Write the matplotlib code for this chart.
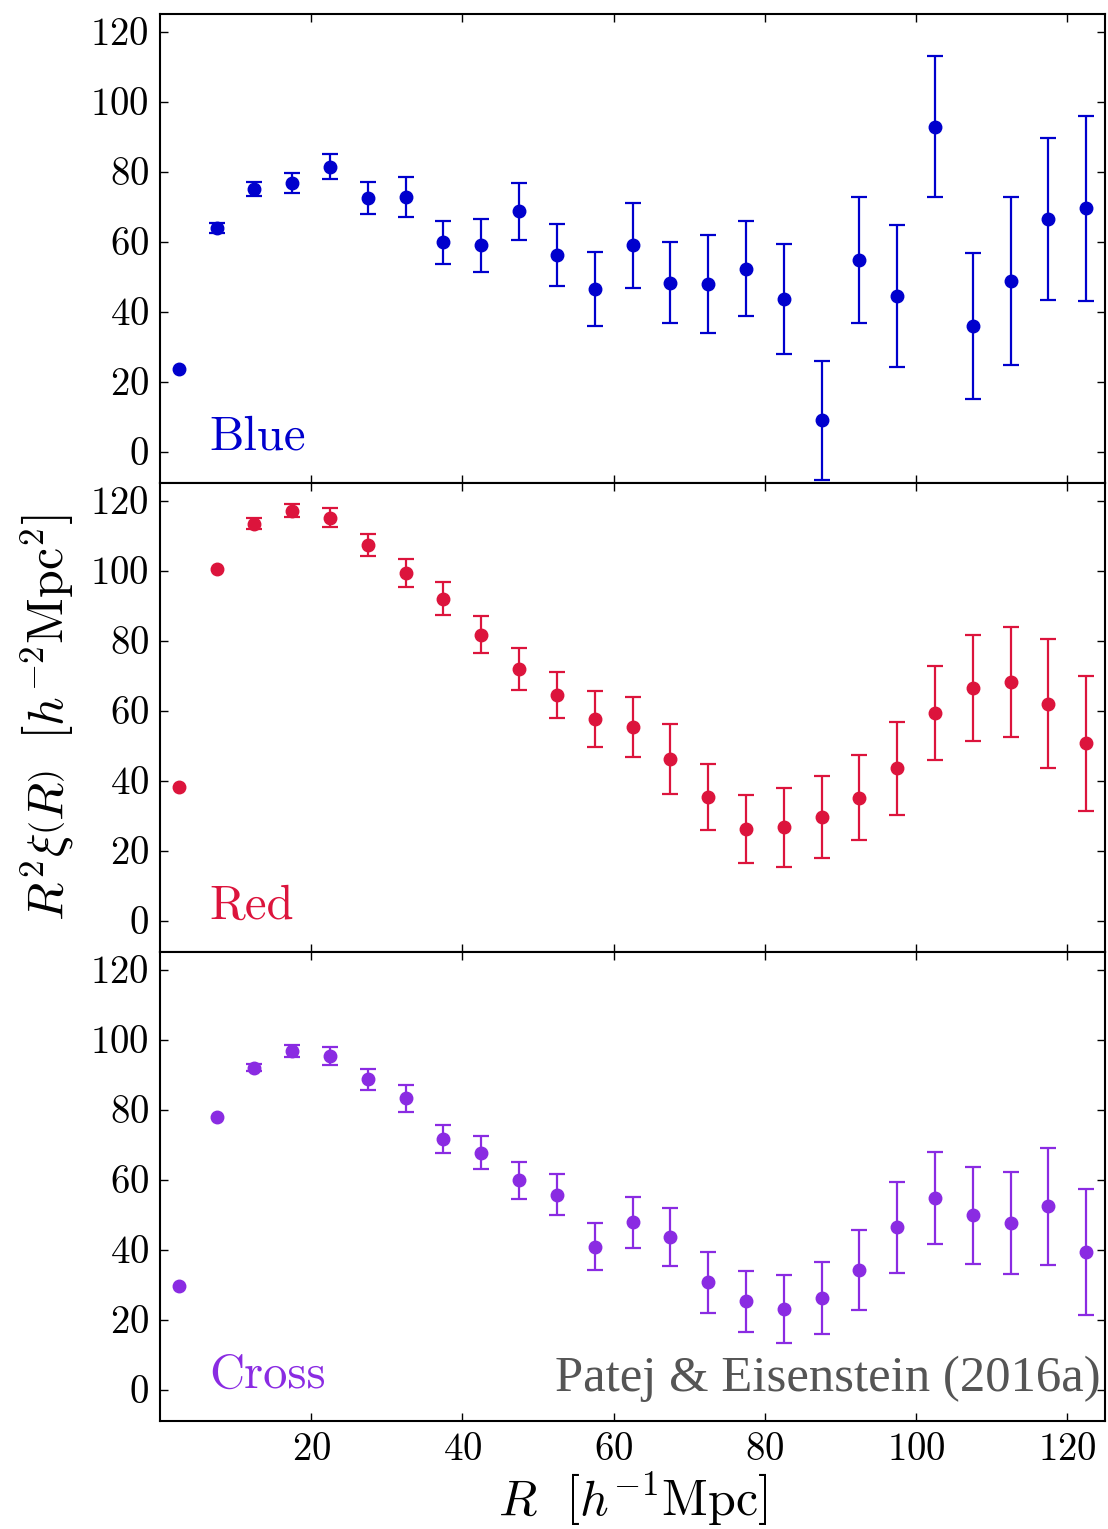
import numpy as np
import matplotlib
matplotlib.use("Agg")
import matplotlib.pyplot as plt
from matplotlib.ticker import MultipleLocator, FixedLocator

plt.rcParams['font.family'] = 'serif'
plt.rcParams['font.serif'] = ['cmr10']
plt.rcParams['mathtext.fontset'] = 'cm'
plt.rcParams['axes.formatter.use_mathtext'] = True
plt.rcParams['axes.unicode_minus'] = False

# bin centres, h^-1 Mpc
R = np.arange(2.5, 125, 5.0)

blue_y = [23.6, 63.9, 75.0, 76.8, 81.4, 72.4, 72.8, 59.8, 58.9, 68.6, 56.1, 46.4, 58.9,
          48.3, 47.9, 52.2, 43.6, 8.9, 54.7, 44.5, 92.8, 35.9, 48.6, 66.4, 69.5]
blue_err = [0.0, 1.5, 2.1, 2.8, 3.6, 4.5, 5.7, 6.1, 7.6, 8.1, 8.8, 10.5, 12.2,
            11.7, 14.1, 13.6, 15.7, 17.1, 18.1, 20.2, 20.1, 20.9, 24.0, 23.2, 26.5]

red_y = [38.2, 100.4, 113.4, 117.1, 115.1, 107.3, 99.4, 92.0, 81.7, 71.9, 64.5, 57.7, 55.2,
         46.3, 35.2, 26.2, 26.6, 29.6, 35.1, 43.5, 59.2, 66.4, 68.1, 62.0, 50.6]
red_err = [0.0, 0.0, 1.5, 1.9, 2.7, 3.2, 4.0, 4.7, 5.3, 5.9, 6.6, 8.0, 8.6,
           10.0, 9.4, 9.8, 11.3, 11.8, 12.2, 13.2, 13.4, 15.2, 15.7, 18.5, 19.2]

cross_y = [29.5, 77.8, 91.9, 96.7, 95.3, 88.6, 83.2, 71.6, 67.7, 59.8, 55.7, 40.8, 47.8,
           43.5, 30.7, 25.2, 23.0, 26.2, 34.2, 46.4, 54.7, 49.8, 47.6, 52.4, 39.3]
cross_err = [0.0, 0.0, 1.0, 1.8, 2.7, 2.9, 3.9, 4.1, 4.7, 5.3, 5.9, 6.7, 7.3,
             8.3, 8.7, 8.8, 9.7, 10.2, 11.5, 13.0, 13.1, 13.8, 14.7, 16.7, 18.0]

names = ['Blue', 'Red', 'Cross']
colors = ['#0000cd', '#dc143c', '#8a2be2']
values = [blue_y, red_y, cross_y]
errors = [blue_err, red_err, cross_err]

fig, axes = plt.subplots(3, 1, sharex=True, figsize=(11.08, 15.29), dpi=100)
fig.subplots_adjust(left=0.1444, right=0.9973, top=0.9908, bottom=0.0706, hspace=0)

for ax, name, c, y, e in zip(axes, names, colors, values, errors):
    y = np.array(y)
    e = np.array(e)
    has = e > 0
    ax.errorbar(R[has], y[has], yerr=e[has], fmt='none', ecolor=c, elinewidth=1.6,
                capsize=5.5, capthick=1.6)
    ax.plot(R, y, 'o', color=c, ms=9, mec=c)
    ax.set_xlim(0, 125)
    ax.set_ylim(-9, 125)
    ax.xaxis.set_major_locator(FixedLocator([20, 40, 60, 80, 100, 120]))
    ax.yaxis.set_major_locator(MultipleLocator(20))
    ax.tick_params(direction='in', top=True, right=True, length=6, width=1.0,
                   labelsize=28, pad=8)
    for s in ax.spines.values():
        s.set_linewidth(1.5)
    ax.text(6.5, 0.5, name, color=c, fontsize=35, va='baseline', ha='left')

axes[1].set_ylabel(r'$R^2\xi\left(R\right)\ \ \left[h^{-2}\mathrm{Mpc}^2\right]$',
                   fontsize=36, labelpad=10)
axes[2].set_xlabel(r'$R\ \ \left[h^{-1}\mathrm{Mpc}\right]$', fontsize=36, labelpad=2)

axes[2].text(124.4, -0.4, 'Patej & Eisenstein (2016a)', color='#555555',
             fontsize=36.5, family='Liberation Serif', ha='right', va='baseline')

fig.savefig('out.png', dpi=100)
